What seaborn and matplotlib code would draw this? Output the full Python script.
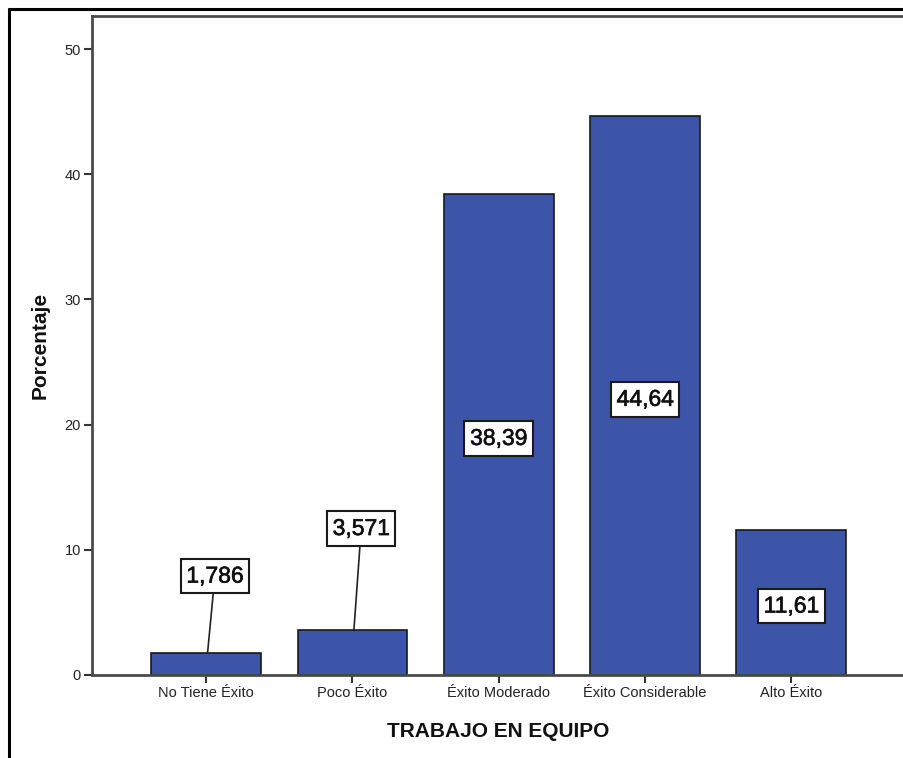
import matplotlib
matplotlib.use("Agg")
import matplotlib.pyplot as plt
from matplotlib.lines import Line2D
import matplotlib.patheffects as pe
import seaborn as sns
import pandas as pd

categorias = ["No Tiene Éxito", "Poco Éxito", "Éxito Moderado", "Éxito Considerable", "Alto Éxito"]
porcentajes = [1.786, 3.571, 38.39, 44.64, 11.61]
etiquetas = ["1,786", "3,571", "38,39", "44,64", "11,61"]
y_ticks = [0, 10, 20, 30, 40, 50]

sns.set_theme(style="white")
plt.rcParams["font.family"] = ["Liberation Sans", "DejaVu Sans"]

df = pd.DataFrame({"categoria": categorias, "porcentaje": porcentajes})

fig = plt.figure(figsize=(9.04, 7.58), dpi=100)
ax = fig.add_axes([92 / 904, 1 - 675 / 758, 1 - 92 / 904, (675 - 16) / 758])

sns.barplot(data=df, x="categoria", y="porcentaje", color="#3D55A9",
            saturation=1, width=0.75, edgecolor="#1a1a1a", linewidth=1.2, ax=ax)

ax.set_xlim(-0.78, 4.77)
ax.set_ylim(0, 52.64)
ax.set_yticks(y_ticks)
ax.set_yticklabels([str(t) for t in y_ticks])

for side in ["left", "top", "bottom"]:
    ax.spines[side].set_color("#4a4a4a")
    ax.spines[side].set_linewidth(2)
ax.spines["right"].set_visible(False)

ax.tick_params(axis="both", which="both", direction="out", length=6, width=1.5,
               color="#333333", labelsize=10.5, labelcolor="#222222", pad=2,
               left=True, bottom=True)

ax.set_xlabel("TRABAJO EN EQUIPO", fontsize=15, fontweight="bold", labelpad=16, color="#111111")
ax.set_ylabel("Porcentaje", fontsize=15, fontweight="bold", labelpad=11, color="#111111")

caja = dict(boxstyle="square,pad=0.25", facecolor="white", edgecolor="#1a1a1a", linewidth=1.5)
fuente = dict(fontsize=16.5, color="#111111",
              path_effects=[pe.withStroke(linewidth=0.45, foreground="#111111")])

# value labels: callouts above the two short bars, centered boxes inside the rest
for i, (v, txt) in enumerate(zip(porcentajes, etiquetas)):
    if v < 5:
        alto = 7.9 if i == 0 else 11.7
        ax.annotate(txt, xy=(i + 0.01, v), xytext=(i + 0.06, alto), textcoords="data",
                    ha="center", va="center", bbox=caja,
                    arrowprops=dict(arrowstyle="-", color="#222222", lw=1.2,
                                    shrinkA=0, shrinkB=0),
                    **fuente)
    else:
        ax.text(i, v / 2 - 0.3, txt, ha="center", va="center", bbox=caja, **fuente)

# outer frame of the chart window
fig.add_artist(Line2D([9 / 904, 9 / 904], [0, 1 - 9 / 758], color="black", lw=2.2))
fig.add_artist(Line2D([9 / 904, 1], [1 - 9 / 758, 1 - 9 / 758], color="black", lw=2.2))

fig.savefig("out.png", dpi=100, facecolor="white")
